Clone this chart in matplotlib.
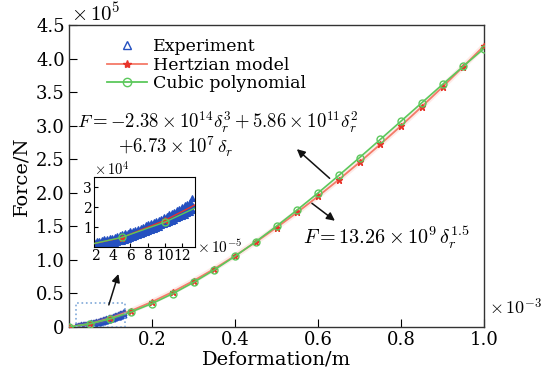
import matplotlib
matplotlib.use("Agg")
import matplotlib.pyplot as plt
from matplotlib.patches import Rectangle, FancyArrowPatch

plt.rcParams['font.family'] = ['DejaVu Serif']
plt.rcParams['mathtext.fontset'] = 'cm'

# --- data ---
# model curves: deformation in 1e-3 m, force in 1e5 N
delta = [0, 0.05, 0.10, 0.15, 0.20, 0.25, 0.30, 0.35, 0.40, 0.45, 0.50,
         0.55, 0.60, 0.65, 0.70, 0.75, 0.80, 0.85, 0.90, 0.95, 1.00]
hertz = [0, 0.047, 0.133, 0.244, 0.375, 0.524, 0.689, 0.868, 1.061, 1.266, 1.483,
         1.710, 1.949, 2.197, 2.456, 2.724, 3.000, 3.286, 3.580, 3.883, 4.193]
cubic = [0, 0.048, 0.124, 0.225, 0.350, 0.497, 0.665, 0.851, 1.055, 1.273, 1.504,
         1.747, 1.999, 2.260, 2.526, 2.797, 3.070, 3.344, 3.617, 3.888, 4.153]

# experiment: deformation in 1e-5 m, force in 1e4 N (edges and middle of the band)
exp_x = [1.8, 2.1, 2.4, 2.7, 3.0, 3.3, 3.6, 3.9, 4.2, 4.5, 4.8, 5.1, 5.4,
         5.7, 6.0, 6.3, 6.6, 6.9, 7.2, 7.5, 7.8, 8.1, 8.4, 8.7, 9.0, 9.3,
         9.6, 9.9, 10.2, 10.5, 10.8, 11.1, 11.4, 11.7, 12.0, 12.3, 12.6, 12.9, 13.2]
exp_hi = [0.25, 0.30, 0.31, 0.35, 0.38, 0.40, 0.45, 0.47, 0.52, 0.55, 0.60, 0.63, 0.68,
          0.72, 0.78, 0.82, 0.87, 0.92, 0.97, 1.02, 1.08, 1.13, 1.19, 1.25, 1.30, 1.37,
          1.42, 1.50, 1.56, 1.63, 1.70, 1.77, 1.84, 1.92, 2.00, 2.08, 2.16, 2.25, 2.45]
exp_mid = [0.12, 0.14, 0.17, 0.20, 0.22, 0.26, 0.29, 0.33, 0.36, 0.40, 0.44, 0.48, 0.53,
           0.57, 0.62, 0.66, 0.71, 0.76, 0.81, 0.86, 0.91, 0.97, 1.02, 1.08, 1.13, 1.19,
           1.25, 1.31, 1.37, 1.43, 1.49, 1.55, 1.61, 1.68, 1.74, 1.81, 1.88, 1.95, 2.10]
exp_lo = [0.02, 0.03, 0.05, 0.07, 0.08, 0.11, 0.14, 0.18, 0.20, 0.24, 0.28, 0.32, 0.37,
          0.41, 0.45, 0.50, 0.55, 0.59, 0.64, 0.69, 0.75, 0.80, 0.85, 0.91, 0.96, 1.02,
          1.08, 1.14, 1.20, 1.25, 1.31, 1.37, 1.43, 1.49, 1.55, 1.61, 1.68, 1.74, 1.85]

blue = '#2450c0'
red_line = '#f47a68'
red_mark = '#e8342a'
green = '#5cc85c'

fig = plt.figure(figsize=(5.45, 3.81), dpi=100)
ax = fig.add_axes([0.1266, 0.1417, 0.7615, 0.792])

# main plot
for ys in (exp_hi, exp_lo, exp_mid):
    ax.plot([v * 0.01 for v in exp_x], [v * 0.1 for v in ys], ls='none',
            marker='^', mfc=blue, mec=blue, ms=3.5, mew=0.8)
ax.plot(delta, hertz, color=red_line, lw=4, alpha=0.15, zorder=3)
ax.plot(delta, hertz, color=red_line, lw=1.3, marker='*', ms=5, mfc=red_mark,
        mec=red_mark, zorder=4)
ax.plot(delta, cubic, color=green, lw=1.2, marker='o', ms=5, mfc='none', mec=green,
        mew=1.0, zorder=5)

ax.set_xlim(0, 1.0)
ax.set_ylim(0, 4.5)
ax.set_xticks([0.2, 0.4, 0.6, 0.8, 1.0])
ax.set_xticklabels(['0.2', '0.4', '0.6', '0.8', '1.0'])
ax.set_yticks([0, 0.5, 1.0, 1.5, 2.0, 2.5, 3.0, 3.5, 4.0, 4.5])
ax.set_yticklabels(['0', '0.5', '1.0', '1.5', '2.0', '2.5', '3.0', '3.5', '4.0', '4.5'])
ax.tick_params(direction='in', length=6, labelsize=13, top=False, right=False, pad=3)
ax.set_xlabel('Deformation/m', fontsize=14, labelpad=1)
ax.set_ylabel('Force/N', fontsize=14, labelpad=4)
for s in ax.spines.values():
    s.set_linewidth(1.0)
    s.set_color('#333333')

ax.text(0.005, 1.0, r'$\times\,10^{5}$', transform=ax.transAxes, fontsize=15,
        ha='left', va='bottom')
ax.text(1.012, 0.03, r'$\times\,10^{-3}$', transform=ax.transAxes, fontsize=13,
        ha='left', va='bottom')

# legend (handles made from the same styles)
h_exp, = ax.plot([], [], ls='none', marker='^', mfc='none', mec=blue, ms=6, mew=1.0)
h_hz, = ax.plot([], [], color=red_line, lw=1.3, marker='*', ms=6, mfc=red_mark, mec=red_mark)
h_cu, = ax.plot([], [], color=green, lw=1.3, marker='o', ms=6, mfc='none', mec=green)
ax.legend([h_exp, h_hz, h_cu], ['Experiment', 'Hertzian model', 'Cubic polynomial'],
          loc='upper left', bbox_to_anchor=(0.055, 1.01), frameon=False, fontsize=12.5,
          handlelength=2.3, handletextpad=0.3, labelspacing=0.1, borderpad=0.4)

# dotted box showing the zoomed region
ax.add_patch(Rectangle((0.018, 0), 0.117, 0.36, fill=False, ls=':', lw=1.2,
                       ec='#7fa8d8', zorder=6))

# equations
ax.text(0.02, 3.05, r'$F = -2.38\times10^{14}\delta_r^3+5.86\times10^{11}\delta_r^2$',
        fontsize=13.5, va='center')
ax.text(0.118, 2.68, r'$+6.73\times10^{7}\,\delta_r$', fontsize=13.5, va='center')
ax.text(0.565, 1.33, r'$F = 13.26\times10^{9}\,\delta_r^{1.5}$', fontsize=14.5, va='center')

def arrow(x0, y0, x1, y1):
    ax.add_patch(FancyArrowPatch((x0, y0), (x1, y1), arrowstyle='-|>',
                                 mutation_scale=12, lw=1.1, color='#111111', zorder=7))

arrow(0.633, 2.19, 0.544, 2.68)
arrow(0.580, 1.87, 0.646, 1.56)
arrow(0.094, 0.29, 0.121, 0.83)

# inset
ins = fig.add_axes([0.1725, 0.3517, 0.1853, 0.1837])
ins.set_xlim(1.8, 13.5)
ins.set_ylim(0, 3.5)
for ys in (exp_hi, exp_lo, exp_mid):
    ins.plot(exp_x, ys, ls='none', marker='^', mfc=blue, mec=blue, ms=4, mew=0.8)
ins.plot([v * 100 for v in delta], [v * 10 for v in hertz], color=red_mark, lw=1.0,
         marker='*', ms=5, mfc=red_mark, mec=red_mark, zorder=4)
ins.plot([v * 100 for v in delta], [v * 10 for v in cubic], color=green, lw=1.0,
         marker='o', ms=5, mfc='none', mec=green, zorder=5)
ins.set_xticks([2, 4, 6, 8, 10, 12])
ins.set_yticks([1, 2, 3])
ins.tick_params(direction='in', length=3, labelsize=10, pad=1.5)
ins.text(0.0, 0.99, r'$\times\,10^{4}$', transform=ins.transAxes, fontsize=10.5,
         ha='left', va='bottom')
ins.text(1.02, 0.0, r'$\times\,10^{-5}$', transform=ins.transAxes, fontsize=11,
         ha='left', va='center')

fig.savefig('out.png', dpi=100)
